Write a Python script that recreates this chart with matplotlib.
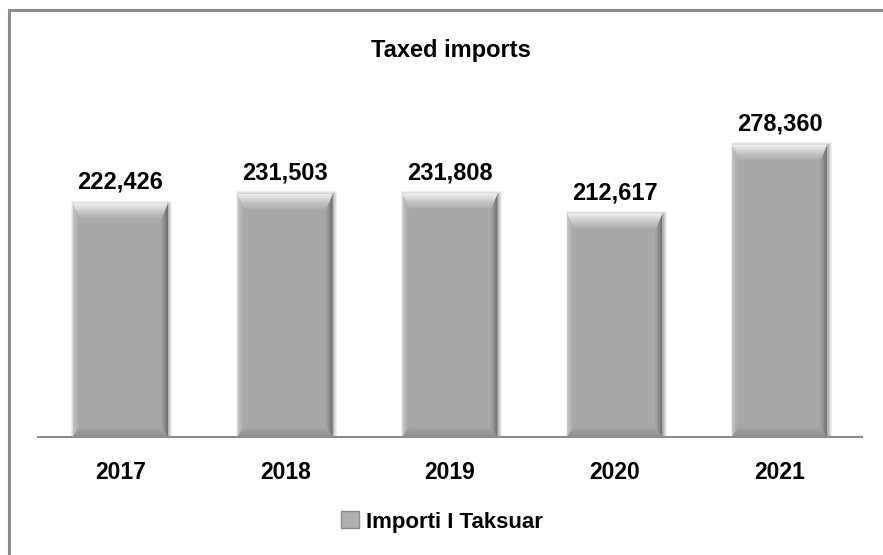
import matplotlib
matplotlib.use("Agg")
import matplotlib.pyplot as plt
from matplotlib.patches import Polygon, Rectangle
from matplotlib.colors import to_rgb
import numpy as np

years = ["2017", "2018", "2019", "2020", "2021"]
values = [222426, 231503, 231808, 212617, 278360]
title = "Taxed imports"
series_name = "Importi I Taksuar"

W, H = 883, 555
DPI = 100
plt.rcParams['font.family'] = ['Liberation Sans', 'DejaVu Sans']

fig = plt.figure(figsize=(W / DPI, H / DPI), dpi=DPI)
fig.patch.set_facecolor("white")

# outer frame
fig.add_artist(Rectangle((8.5 / W, -0.1), 1.2, 1 - 9.5 / H + 0.1, transform=fig.transFigure,
                         fill=False, edgecolor="#8c8c8c", linewidth=2.2))

ax_left, ax_right = 38 / W, 862 / W
ax_bottom, ax_top = 1 - 437 / H, 1 - 100 / H
ax = fig.add_axes([ax_left, ax_bottom, ax_right - ax_left, ax_top - ax_bottom])
ax.set_facecolor("none")

px_per_unit = 292 / 278360
ax.set_ylim(0, (437 - 100) / px_per_unit)
ax.set_xlim(-0.5, len(years) - 0.5)

x = np.arange(len(years))
bw = 0.57
bars = ax.bar(x, values, width=bw, color="#a8a8a8", edgecolor="none", zorder=2)

fig.canvas.draw()
inv = ax.transData.inverted()


def mix(c0, c1, t):
    a, b = np.array(to_rgb(c0)), np.array(to_rgb(c1))
    return tuple(a + (b - a) * t)


def strip(poly, color):
    ax.add_patch(Polygon(poly, closed=True, facecolor=color, edgecolor=color,
                         linewidth=0.6, zorder=3))


for b in bars:
    x0, y0 = b.get_x(), b.get_y()
    x1, y1 = x0 + b.get_width(), y0 + b.get_height()
    (dx0, dy0) = ax.transData.transform((x0, y0))
    (dx1, dy1) = ax.transData.transform((x1, y1))

    def d(px, py):
        return inv.transform((px, py))

    # soft shadow
    for k, a in [(4, 0.05), (3, 0.07), (2, 0.09), (1, 0.10)]:
        p0 = d(dx0 - k + 2, dy0)
        p1 = d(dx1 + k + 1, dy1 + k - 1)
        ax.add_patch(Rectangle(p0, p1[0] - p0[0], p1[1] - p0[1], facecolor="black",
                               alpha=a, edgecolor="none", zorder=1))

    sl, sr, st, sb = 6, 6, 14, 10   # bevel depths in px
    n = 10
    for i in range(n):
        t0, t1 = i / n, (i + 1) / n
        tm = (t0 + t1) / 2
        # left
        strip([d(dx0 + sl * t0, dy1 - st * t0), d(dx0 + sl * t1, dy1 - st * t1),
               d(dx0 + sl * t1, dy0 + sb * t1), d(dx0 + sl * t0, dy0 + sb * t0)],
              mix("#c4c4c4", "#a8a8a8", tm))
        # right
        strip([d(dx1 - sr * t0, dy1 - st * t0), d(dx1 - sr * t1, dy1 - st * t1),
               d(dx1 - sr * t1, dy0 + sb * t1), d(dx1 - sr * t0, dy0 + sb * t0)],
              mix("#6e6e6e", "#a2a2a2", tm))
    for i in range(n):
        t0, t1 = i / n, (i + 1) / n
        tm = (t0 + t1) / 2
        # top
        strip([d(dx0 + sl * t0, dy1 - st * t0), d(dx1 - sr * t0, dy1 - st * t0),
               d(dx1 - sr * t1, dy1 - st * t1), d(dx0 + sl * t1, dy1 - st * t1)],
              mix("#f6f6f6", "#b0b0b0", tm ** 0.8))
        # bottom
        strip([d(dx0 + sl * t0, dy0 + sb * t0), d(dx1 - sr * t0, dy0 + sb * t0),
               d(dx1 - sr * t1, dy0 + sb * t1), d(dx0 + sl * t1, dy0 + sb * t1)],
              mix("#8c8c8c", "#a6a6a6", tm))

for xi, v in zip(x, values):
    ax.annotate(f"{v:,}", (xi, v), xytext=(0, 7), textcoords="offset points",
                ha="center", va="bottom", fontsize=17, fontweight="bold", color="black")

for s in ["top", "right", "left"]:
    ax.spines[s].set_visible(False)
ax.spines["bottom"].set_color("#8c8c8c")
ax.spines["bottom"].set_linewidth(1.5)
ax.spines["bottom"].set_zorder(5)
ax.set_yticks([])
ax.set_xticks(x)
ax.set_xticklabels(years, fontsize=16.5, fontweight="bold")
ax.tick_params(axis="x", length=0, pad=17.5)

fig.text(451 / W, 1 - 51 / H, title, ha="center", va="center", fontsize=17, fontweight="bold")

handle = Rectangle((0, 0), 1, 1, facecolor="#b0b0b0", edgecolor="#8a8a8a")
fig.legend([handle], [series_name], loc="center", bbox_to_anchor=(442 / W, 1 - 522 / H),
           frameon=False, prop={"size": 16, "weight": "bold"}, handlelength=0.8,
           handleheight=0.8, handletextpad=0.3)

fig.savefig("out.png", dpi=DPI, facecolor="white")
